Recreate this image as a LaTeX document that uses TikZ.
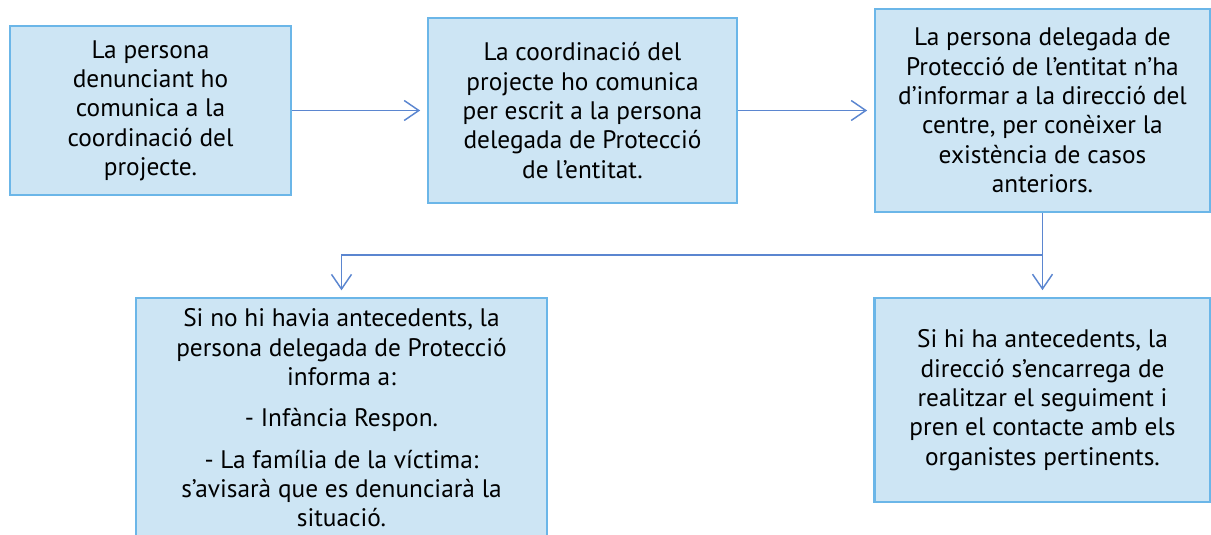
\documentclass[tikz,border=0pt]{standalone}
\usepackage{fontspec}
\setmainfont{PT Sans}
\usetikzlibrary{arrows.meta}
\definecolor{boxfill}{HTML}{CDE5F4}
\definecolor{boxline}{HTML}{6BB6E8}
\definecolor{flowline}{HTML}{5B86D0}
\begin{document}
\begin{tikzpicture}[
 x=0.75pt, y=-0.75pt,
 align=center,
 font=\fontsize{19}{22}\selectfont,
 >={Straight Barb[length=11pt,width=15pt]},
 box/.style={draw=boxline,fill=boxfill,line width=1.8pt,rectangle,inner sep=2mm},
 flow/.style={draw=flowline,line width=1.1pt,->,shorten >=5pt}
]
\useasboundingbox (0,0) rectangle (1211,535);
\clip (0,0) rectangle (1211,535);
\node (denunciant-box) [box,minimum width=210.75pt,minimum height=126.75pt] at (150.5,110.5)
 {La persona\\denunciant ho\\comunica a la\\coordinació del\\projecte.};
\node (coordinacio-box) [box,minimum width=231.75pt,minimum height=138.75pt] at (582.5,110.5)
 {La coordinació del\\projecte ho comunica\\per escrit a la persona\\delegada de Protecció\\de l’entitat.};
\node (delegada-box) [box,minimum width=251.25pt,minimum height=152.25pt] at (1042.5,110.5)
 {La persona delegada de\\Protecció de l’entitat n’ha\\d’informar a la direcció del\\centre, per conèixer la\\existència de casos\\anteriors.};
\node (sense-box) [box,anchor=north,minimum width=308.25pt,inner ysep=8pt,text depth=14pt] at (341.5,297)
 {Si no hi havia antecedents, la\\persona delegada de Protecció\\informa a:\\[9pt]- Infància Respon.\\[9pt]- La família de la víctima:\\s’avisarà que es denunciarà la\\situació.};
\node (antecedents-box) [box,minimum width=252pt,minimum height=153pt] at (1042.5,400)
 {Si hi ha antecedents, la\\direcció s’encarrega de\\realitzar el seguiment i\\pren el contacte amb els\\organistes pertinents.};
\coordinate (split) at ([yshift=-31.5pt]delegada-box.south);
\draw[flow] (denunciant-box.east) -- (coordinacio-box.west);
\draw[flow] (coordinacio-box.east) -- (delegada-box.west);
\draw[flow] (delegada-box.south) -- (antecedents-box.north);
\draw[flow] (split) -| (sense-box.north);
\end{tikzpicture}
\end{document}
